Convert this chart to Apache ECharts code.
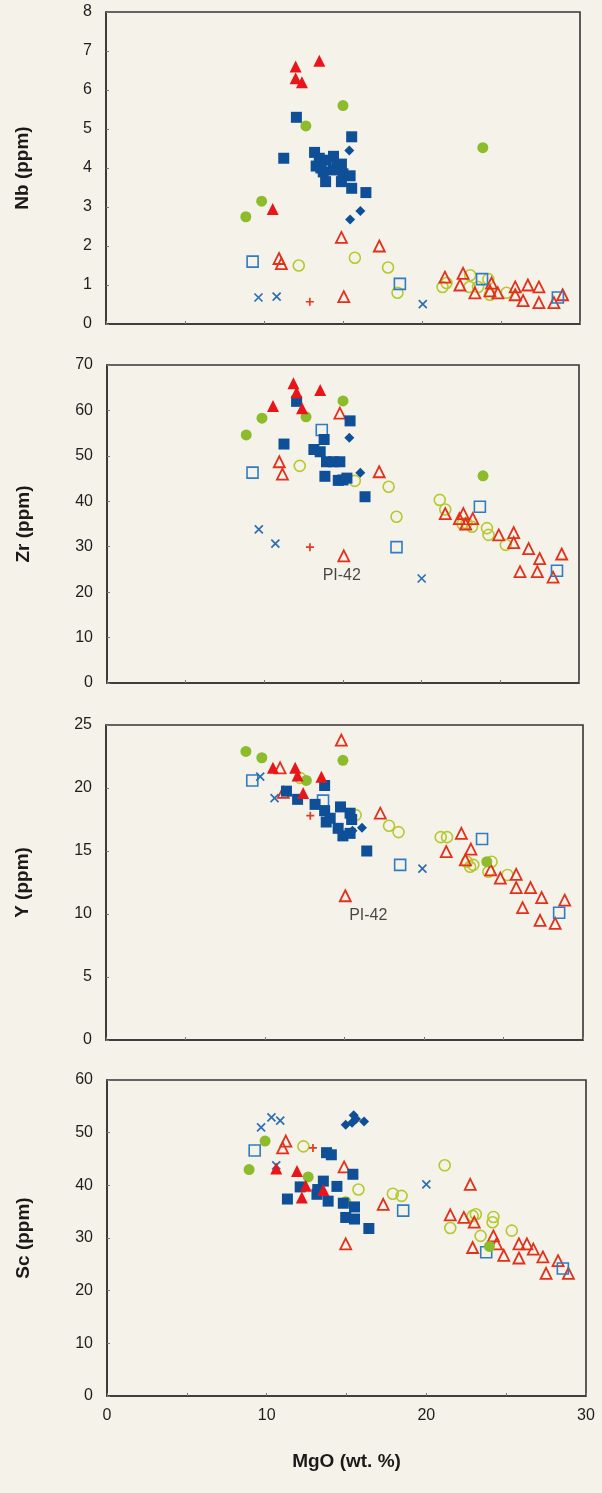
<!DOCTYPE html>
<html>
<head>
<meta charset="utf-8">
<script src="https://cdn.jsdelivr.net/npm/echarts@6/dist/echarts.min.js"></script>
<style>
  html, body { margin: 0; padding: 0; background: #f5f3e9; }
  #chart { width: 602px; height: 1493px; }
</style>
</head>
<body>
<div id="chart"></div>
<script>
// ---------- DATA (MgO wt.%, ppm) ----------
const panelNames = ['Nb (ppm)', 'Zr (ppm)', 'Y (ppm)', 'Sc (ppm)'];
const yMax = [8, 70, 25, 60];
const yStep = [1, 10, 5, 10];
const xTicks = [0, 10, 20, 30];

// Panel 1: Nb
const nbBlueSq = [[12.05,5.3],[11.25,4.25],[15.55,4.8],[13.2,4.4],[13.5,4.25],[13.9,4.2],[14.4,4.3],[14.9,4.1],[13.3,4.05],[13.75,3.9],[14.4,3.95],[15.0,3.85],[15.45,3.8],[13.9,3.65],[14.9,3.65],[15.55,3.48],[16.45,3.37],[13.6,4.0],[14.6,4.05]];
const nbBlueDia = [[15.4,4.45],[15.45,2.68],[16.1,2.9]];
const nbBlueOpenSq = [[9.28,1.6],[18.6,1.03],[23.8,1.15],[28.6,0.68]];
const nbBlueX = [[9.65,0.68],[10.8,0.7],[20.05,0.51]];
const nbRedTri = [[12.0,6.6],[13.5,6.75],[12.0,6.3],[12.4,6.2],[10.55,2.95]];
const nbRedOpenTri = [[10.95,1.68],[11.1,1.55],[14.9,2.22],[15.05,0.7],[17.3,2.0],[21.45,1.2],[22.6,1.3],[22.4,1.0],[23.35,0.8],[24.4,1.05],[24.3,0.85],[24.8,0.8],[25.9,0.95],[25.9,0.75],[26.4,0.6],[26.7,1.0],[27.4,0.95],[27.4,0.55],[28.35,0.55],[28.9,0.75]];
const nbRedPlus = [[12.9,0.57]];
const nbGreenDot = [[8.85,2.75],[9.85,3.15],[12.65,5.08],[15.0,5.6],[23.85,4.52]];
const nbGreenOpen = [[12.2,1.5],[15.75,1.7],[17.85,1.45],[18.45,0.8],[21.3,0.95],[21.55,1.05],[23.05,1.25],[23.0,0.95],[23.55,0.95],[24.2,1.15],[24.3,0.75],[25.35,0.8]];

// Panel 2: Zr
const zrBlueSq = [[12.05,62],[11.25,52.6],[15.45,57.7],[13.8,53.6],[13.15,51.4],[13.55,50.9],[13.95,48.7],[14.4,48.7],[14.8,48.7],[13.85,45.5],[14.7,44.6],[15.0,44.7],[15.25,45.1],[16.4,41.0]];
const zrBlueDia = [[15.4,54],[16.1,46.3]];
const zrBlueOpenSq = [[9.25,46.3],[13.65,55.7],[18.4,29.9],[23.7,38.8],[28.6,24.7]];
const zrBlueX = [[9.65,33.8],[10.7,30.7],[20.0,23.0]];
const zrRedTri = [[11.85,66],[12.05,64],[13.55,64.5],[10.55,61],[12.4,60.5]];
const zrRedOpenTri = [[10.95,48.7],[11.15,46.0],[14.8,59.4],[15.05,28.0],[17.3,46.5],[21.5,37.3],[22.65,37.3],[22.4,36.2],[23.25,36.2],[22.8,35],[24.9,32.6],[25.85,33.1],[25.85,30.9],[26.8,29.6],[27.5,27.4],[26.25,24.5],[27.35,24.5],[28.35,23.3],[28.9,28.4]];
const zrRedPlus = [[12.9,29.9]];
const zrGreenDot = [[8.85,54.6],[9.85,58.3],[12.65,58.6],[15.0,62.1],[23.9,45.6]];
const zrGreenOpen = [[12.25,47.8],[15.75,44.5],[17.9,43.2],[18.4,36.6],[21.15,40.3],[21.5,38.2],[22.85,35.2],[23.2,34.4],[24.15,34.1],[24.25,32.6],[25.35,30.4],[22.6,35]];

// Panel 3: Y
const yBlueSq = [[13.75,20.2],[11.35,19.75],[12.05,19.1],[13.15,18.7],[13.75,18.2],[14.75,18.5],[15.35,18.0],[13.85,17.3],[14.6,16.8],[15.35,16.4],[15.45,17.5],[14.1,17.6],[16.4,15.0],[14.9,16.2]];
const yBlueDia = [[16.1,16.85],[15.5,16.6]];
const yBlueOpenSq = [[9.2,20.6],[13.65,19.0],[18.5,13.9],[23.65,15.95],[28.5,10.1]];
const yBlueX = [[9.7,20.9],[10.6,19.2],[19.9,13.6]];
const yRedTri = [[10.5,21.6],[11.9,21.6],[13.55,20.9],[12.4,19.6],[12.05,21.0]];
const yRedOpenTri = [[14.8,23.8],[10.95,21.6],[11.15,19.66],[15.05,11.45],[17.25,18.0],[22.35,16.4],[21.4,14.95],[22.95,15.15],[22.6,14.3],[24.8,12.85],[25.8,13.15],[25.8,12.1],[26.7,12.1],[27.4,11.3],[26.2,10.5],[27.3,9.5],[28.25,9.26],[28.85,11.1],[24.2,13.5]];
const yRedPlus = [[12.85,17.8]];
const yGreenDot = [[8.8,22.9],[9.8,22.4],[12.6,20.6],[14.9,22.2],[23.95,14.15]];
const yGreenOpen = [[12.2,20.8],[15.7,17.85],[17.8,17.0],[18.4,16.5],[21.05,16.1],[21.45,16.1],[22.7,14.15],[23.1,13.9],[22.9,13.75],[24.05,13.35],[24.25,14.15],[25.25,13.1]];

// Panel 4: Sc
const scBlueSq = [[11.3,37.4],[12.1,39.7],[13.75,46.2],[14.05,45.8],[13.55,40.8],[13.15,38.3],[13.85,37.0],[14.4,39.8],[15.4,42.1],[14.8,36.6],[14.95,33.9],[15.5,33.6],[15.5,35.9],[16.4,31.8],[13.2,39.2]];
const scBlueDia = [[15.45,53.3],[14.95,51.5],[15.35,51.9],[16.1,52.1],[15.6,52.6]];
const scBlueOpenSq = [[9.25,46.6],[18.55,35.2],[23.75,27.3],[28.55,24.2]];
const scBlueX = [[9.65,51],[10.3,52.9],[10.85,52.3],[20.0,40.2],[10.6,43.8]];
const scRedTri = [[10.6,43.2],[11.9,42.7],[12.45,39.9],[12.2,37.7],[13.55,39.1]];
const scRedOpenTri = [[11.2,48.4],[11.0,47.1],[14.85,43.5],[14.95,28.9],[17.3,36.4],[22.75,40.2],[21.5,34.4],[22.35,33.9],[23.0,33.0],[24.2,30.4],[24.4,28.9],[22.9,28.2],[24.85,26.7],[25.8,28.9],[26.3,28.9],[26.7,27.9],[25.8,26.2],[27.3,26.4],[28.25,25.7],[27.5,23.3],[28.9,23.3]];
const scRedPlus = [[12.9,47.1]];
const scGreenDot = [[9.9,48.4],[8.9,43.0],[12.6,41.6],[14.95,36.9],[23.95,28.4]];
const scGreenOpen = [[12.3,47.4],[15.75,39.2],[17.9,38.4],[18.45,38.0],[21.15,43.8],[21.5,31.9],[23.1,34.5],[22.9,34.2],[24.2,34.0],[24.15,33.0],[23.4,30.4],[25.35,31.4]];

// Annotations: sample PI-42 (panel index, MgO, value)
const annotText = ['PI-42', 'PI-42'];
const annotPanel = [1, 2];
const annotPoint = [[15.05, 28.0], [15.05, 11.45]];

// ---------- STYLES ----------
const panels = [
  { greenOpen: nbGreenOpen, redOpenTri: nbRedOpenTri, blueOpenSq: nbBlueOpenSq, blueX: nbBlueX, redPlus: nbRedPlus, greenDot: nbGreenDot, blueSq: nbBlueSq, blueDia: nbBlueDia, redTri: nbRedTri },
  { greenOpen: zrGreenOpen, redOpenTri: zrRedOpenTri, blueOpenSq: zrBlueOpenSq, blueX: zrBlueX, redPlus: zrRedPlus, greenDot: zrGreenDot, blueSq: zrBlueSq, blueDia: zrBlueDia, redTri: zrRedTri },
  { greenOpen: yGreenOpen, redOpenTri: yRedOpenTri, blueOpenSq: yBlueOpenSq, blueX: yBlueX, redPlus: yRedPlus, greenDot: yGreenDot, blueSq: yBlueSq, blueDia: yBlueDia, redTri: yRedTri },
  { greenOpen: scGreenOpen, redOpenTri: scRedOpenTri, blueOpenSq: scBlueOpenSq, blueX: scBlueX, redPlus: scRedPlus, greenDot: scGreenDot, blueSq: scBlueSq, blueDia: scBlueDia, redTri: scRedTri }
];
const clear = 'rgba(0,0,0,0)';
const styles = {
  greenOpen:  { symbol: 'circle', size: 11, itemStyle: { color: clear, borderColor: '#b5c92f', borderWidth: 1.6 } },
  redOpenTri: { symbol: 'triangle', size: 11, itemStyle: { color: clear, borderColor: '#e2301c', borderWidth: 1.8 } },
  blueOpenSq: { symbol: 'rect', size: 11, itemStyle: { color: clear, borderColor: '#2f7cc0', borderWidth: 1.6 } },
  blueX:      { symbol: 'path://M0,0L10,10M10,0L0,10', size: 8, itemStyle: { color: clear, borderColor: '#2c6db5', borderWidth: 1.7 } },
  redPlus:    { symbol: 'path://M5,0L5,10M0,5L10,5', size: 8, itemStyle: { color: clear, borderColor: '#e53a1f', borderWidth: 1.7 } },
  greenDot:   { symbol: 'circle', size: 11, itemStyle: { color: '#8cbb2c' } },
  blueSq:     { symbol: 'rect', size: 11, itemStyle: { color: '#0e4f98' } },
  blueDia:    { symbol: 'diamond', size: 10, itemStyle: { color: '#0e4f98' } },
  redTri:     { symbol: 'triangle', size: 12, itemStyle: { color: '#e8161b' } }
};
const order = ['greenOpen','redOpenTri','blueOpenSq','blueX','redPlus','greenDot','blueSq','blueDia','redTri'];

const grids = [
  { left: 106, top: 12,   width: 474, height: 312 },
  { left: 107, top: 365,  width: 472, height: 318 },
  { left: 106, top: 725,  width: 477, height: 315 },
  { left: 107, top: 1080, width: 479, height: 316 }
];
const fontFam = '"Liberation Sans", Arial, sans-serif';
const lineCol = '#353535';

const xAxes = grids.map((g, i) => ({
  gridIndex: i, type: 'value', min: 0, max: 30, interval: 5,
  axisLine: { show: true, lineStyle: { color: lineCol, width: 1.6 } },
  axisTick: { show: true, inside: true, length: 3, lineStyle: { color: '#777' } },
  splitLine: { show: false },
  axisLabel: {
    show: i === 3, margin: 12, fontSize: 16, color: '#1e1e1e', fontFamily: fontFam,
    formatter: v => xTicks.indexOf(v) >= 0 ? String(v) : ''
  },
  name: i === 3 ? 'MgO (wt. %)' : '', nameLocation: 'middle', nameGap: 56,
  nameTextStyle: { fontSize: 19, fontWeight: 'bold', color: '#1a1a1a', fontFamily: fontFam }
}));
const yAxes = grids.map((g, i) => ({
  gridIndex: i, type: 'value', min: 0, max: yMax[i], interval: yStep[i],
  axisLine: { show: true, lineStyle: { color: lineCol, width: 1.6 } },
  axisTick: { show: true, inside: true, length: 3, lineStyle: { color: '#777' } },
  splitLine: { show: false },
  axisLabel: { margin: 14, fontSize: 16, color: '#1e1e1e', fontFamily: fontFam },
  name: panelNames[i], nameLocation: 'middle', nameGap: 74,
  nameTextStyle: { fontSize: 19, fontWeight: 'bold', color: '#1a1a1a', fontFamily: fontFam }
}));

const series = [];
panels.forEach((p, i) => {
  order.forEach(k => {
    const s = styles[k];
    series.push({
      type: 'scatter', xAxisIndex: i, yAxisIndex: i,
      symbol: s.symbol, symbolSize: s.size, symbolKeepAspect: true,
      itemStyle: Object.assign({ opacity: 1 }, s.itemStyle),
      data: p[k], silent: true, animation: false
    });
  });
});
annotPanel.forEach((pi, j) => {
  series.push({
    type: 'scatter', xAxisIndex: pi, yAxisIndex: pi, symbolSize: 1,
    itemStyle: { color: clear },
    data: [annotPoint[j]], animation: false, silent: true,
    label: {
      show: true, formatter: annotText[j], position: 'bottom',
      distance: 11, offset: pi === 1 ? [-2, 0] : [23, 0],
      fontSize: 16, color: '#1a1a1a', fontFamily: fontFam
    }
  });
});

const chart = echarts.init(document.getElementById('chart'), null, { renderer: 'canvas' });
chart.setOption({
  backgroundColor: '#f5f3e9',
  animation: false,
  grid: grids.map(g => Object.assign({ show: true, borderColor: lineCol, borderWidth: 1.6, backgroundColor: clear }, g)),
  xAxis: xAxes,
  yAxis: yAxes,
  series: series
});
</script>
</body>
</html>
